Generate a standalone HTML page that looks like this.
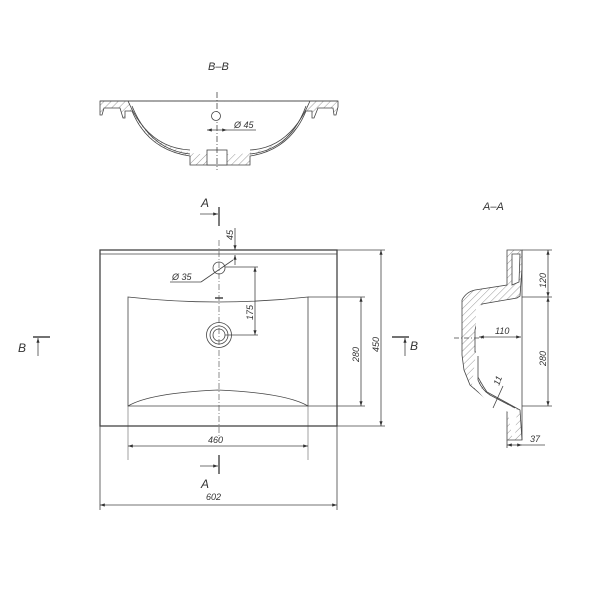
<!DOCTYPE html>
<html><head><meta charset="utf-8"><style>
html,body{margin:0;padding:0;background:#fff;width:600px;height:600px;overflow:hidden}
text{font-family:"Liberation Sans",sans-serif;font-style:italic;fill:#333}
</style></head><body>
<svg width="600" height="600" viewBox="0 0 600 600" xmlns="http://www.w3.org/2000/svg">
<defs>
<pattern id="h" width="5" height="5" patternUnits="userSpaceOnUse" patternTransform="rotate(45)">
<line x1="0" y1="0" x2="0" y2="5" stroke="#555" stroke-width="0.6"/></pattern>
<marker id="a" markerWidth="6" markerHeight="4" refX="6" refY="2" orient="auto"><path d="M0,0 L6,2 L0,4z" fill="#333"/></marker>
<marker id="b" markerWidth="6" markerHeight="4" refX="0" refY="2" orient="auto"><path d="M6,0 L0,2 L6,4z" fill="#333"/></marker>
</defs>
<g stroke="#444" stroke-width="0.8" fill="none">
<!-- B-B -->
<text x="208" y="70" font-size="11" stroke="none">B–B</text>
<path d="M100,101 L338,101 L338,107 L336,115 L334,115 L333,108 L318,108 L314,118 L312,118 L312,111 L306,111 Q290,150 250,156 L250,165 L190,165 L190,156 Q148,150 132,111 L125,111 L125,118 L123,118 L120,108 L104,108 L102,115 L100,115 Z" fill="url(#h)"/>
<path d="M128,101.5 L310,101.5 L306,106 Q290,150 240,154 L200,154 Q150,150 132,106 Z" fill="#fff" stroke="none"/>
<line x1="100" y1="101" x2="338" y2="101"/>
<path d="M132,106 Q150,150 190,154 M306,106 Q290,150 250,154"/>
<path d="M128,101 Q148,148 190,150 M310,101 Q290,148 250,150"/>
<rect x="207" y="150" width="20" height="15" fill="#fff"/>
<line x1="217" y1="92" x2="217" y2="170" stroke-dasharray="6,2,1,2"/>
<circle cx="216" cy="116" r="4.5" fill="#fff"/>
<line x1="207" y1="130" x2="227" y2="130" marker-start="url(#b)" marker-end="url(#a)"/>
<line x1="227" y1="130" x2="256" y2="130"/>
<text x="234" y="128" font-size="9" stroke="none">Ø 45</text>
<!-- main view -->
<rect x="100" y="250" width="237" height="176" stroke-width="1.3"/>
<line x1="100" y1="254" x2="337" y2="254"/>
<path d="M128,297 Q218,307 308,297 L308,406 L128,406 Z"/>
<path d="M128,406 Q150,393 218,390 Q286,393 308,406"/>
<line x1="128" y1="406" x2="128" y2="460" stroke-width="0.5"/>
<line x1="308" y1="406" x2="308" y2="460" stroke-width="0.5"/>
<line x1="219" y1="240" x2="219" y2="440" stroke-dasharray="6,2,1,2" stroke-width="0.6"/>
<circle cx="219" cy="268" r="6"/>
<circle cx="219" cy="335" r="12.5"/><circle cx="219" cy="335" r="9"/><circle cx="219" cy="335" r="6"/>
<line x1="215" y1="298" x2="223" y2="298" stroke-width="1.5"/>
<line x1="225" y1="267" x2="258" y2="267"/><line x1="225" y1="335" x2="258" y2="335"/>
<line x1="255" y1="267" x2="255" y2="335" marker-start="url(#b)" marker-end="url(#a)"/>
<text transform="translate(253,320) rotate(-90)" font-size="9" stroke="none">175</text>
<line x1="235" y1="228" x2="235" y2="250" marker-end="url(#a)"/>
<line x1="235" y1="265" x2="235" y2="255" marker-end="url(#a)"/>
<text transform="translate(233,240) rotate(-90)" font-size="9" stroke="none">45</text>
<line x1="170" y1="282" x2="201" y2="282"/><line x1="201" y1="282" x2="233" y2="260"/>
<text x="172" y="280" font-size="9" stroke="none">Ø 35</text>
<line x1="308" y1="297" x2="365" y2="297"/><line x1="308" y1="406" x2="365" y2="406"/>
<line x1="361" y1="297" x2="361" y2="406" marker-start="url(#b)" marker-end="url(#a)"/>
<text transform="translate(359,362) rotate(-90)" font-size="9" stroke="none">280</text>
<line x1="337" y1="250" x2="385" y2="250"/><line x1="337" y1="426" x2="385" y2="426"/>
<line x1="381" y1="250" x2="381" y2="426" marker-start="url(#b)" marker-end="url(#a)"/>
<text transform="translate(379,352) rotate(-90)" font-size="9" stroke="none">450</text>
<line x1="128" y1="446" x2="308" y2="446" marker-start="url(#b)" marker-end="url(#a)"/>
<text x="208" y="443" font-size="9" stroke="none">460</text>
<line x1="100" y1="426" x2="100" y2="510"/><line x1="337" y1="426" x2="337" y2="510"/>
<line x1="100" y1="505" x2="337" y2="505" marker-start="url(#b)" marker-end="url(#a)"/>
<text x="206" y="500" font-size="9" stroke="none">602</text>
<!-- A markers -->
<line x1="219" y1="207" x2="219" y2="226" stroke-width="1.4"/>
<line x1="200" y1="214" x2="218" y2="214" marker-end="url(#a)"/>
<text x="201" y="207" font-size="12" stroke="none">A</text>
<line x1="219" y1="455" x2="219" y2="474" stroke-width="1.4"/>
<line x1="200" y1="466" x2="218" y2="466" marker-end="url(#a)"/>
<text x="201" y="488" font-size="12" stroke="none">A</text>
<!-- B markers -->
<line x1="33" y1="337" x2="50" y2="337" stroke-width="1.4"/>
<line x1="38" y1="356" x2="38" y2="338" marker-end="url(#a)"/>
<text x="18" y="352" font-size="12" stroke="none">B</text>
<line x1="392" y1="337" x2="409" y2="337" stroke-width="1.4"/>
<line x1="405" y1="356" x2="405" y2="338" marker-end="url(#a)"/>
<text x="410" y="350" font-size="12" stroke="none">B</text>
<!-- A-A -->
<text x="483" y="210" font-size="11" stroke="none">A–A</text>
<path d="M507,250 L522,250 L522,268 L520,296 L517,298 L482,304 L475,330 L475,352 L477,352 L477,375 Q482,385 487,392 L520,410 L522,440 L507,440 L507,410 L485,398 L470,385 L464,370 L462,355 L462,300 Q466,292 475,290 L507,285 Z" fill="url(#h)"/>
<path d="M512,254 L520,254 L519,282 L512,285 Z" fill="#fff"/>
<path d="M476,306 L514,300 L480,358 L478,382 Q482,392 490,395 L517,410 L515,436 L512,436 L508,412 L486,400 L472,385 L476,352 Z" fill="#fff" stroke="none"/>
<path d="M478,356 L478,380 Q482,390 490,395 L515,408"/>
<line x1="522" y1="250" x2="522" y2="440"/>
<line x1="454" y1="338" x2="482" y2="338" stroke-dasharray="5,2,1,2"/>
<line x1="522" y1="250" x2="552" y2="250"/><line x1="522" y1="297" x2="552" y2="297"/>
<line x1="522" y1="406" x2="552" y2="406"/>
<line x1="548" y1="250" x2="548" y2="297" marker-start="url(#b)" marker-end="url(#a)"/>
<line x1="548" y1="297" x2="548" y2="406" marker-start="url(#b)" marker-end="url(#a)"/>
<text transform="translate(546,288) rotate(-90)" font-size="9" stroke="none">120</text>
<text transform="translate(546,366) rotate(-90)" font-size="9" stroke="none">280</text>
<line x1="479" y1="337" x2="521" y2="337" marker-start="url(#b)" marker-end="url(#a)"/>
<text x="495" y="334" font-size="9" stroke="none">110</text>
<line x1="493" y1="408" x2="503" y2="386"/>
<text transform="translate(499,386) rotate(-70)" font-size="9" stroke="none">11</text>
<line x1="507" y1="440" x2="507" y2="448"/>
<line x1="507" y1="445" x2="522" y2="445" marker-start="url(#b)" marker-end="url(#a)"/>
<line x1="522" y1="445" x2="545" y2="445"/>
<text x="530" y="442" font-size="9" stroke="none">37</text>
</g>
</svg>
</body></html>
